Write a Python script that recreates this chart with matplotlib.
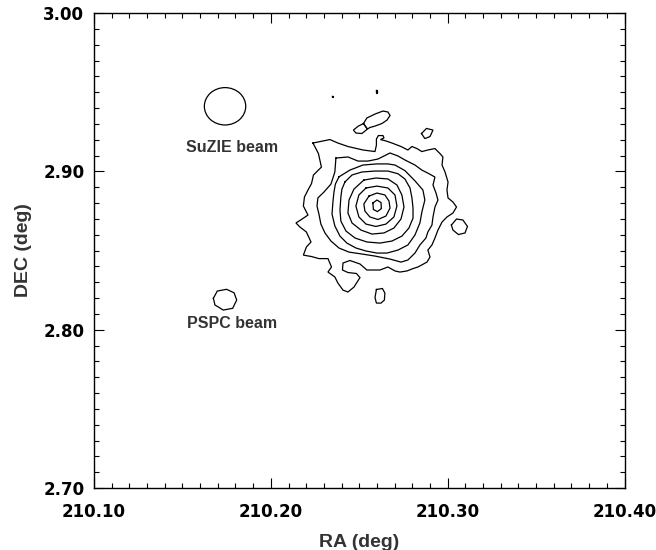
import numpy as np
import matplotlib
matplotlib.use("Agg")
import matplotlib.pyplot as plt
from matplotlib.patches import Ellipse
from matplotlib.ticker import MultipleLocator, FormatStrFormatter

# X-ray surface-brightness contours (RA, DEC in deg), innermost first
C1_RA = [210.2577, 210.2600, 210.2623, 210.2625, 210.2603, 210.2580]
C1_DEC = [2.8800, 2.8819, 2.8803, 2.8765, 2.8746, 2.8759]

C2_RA = [210.2555, 210.2600, 210.2645, 210.2668, 210.2674, 210.2651, 210.2606, 210.2560, 210.2532, 210.2526]
C2_DEC = [2.8844, 2.8863, 2.8851, 2.8813, 2.8768, 2.8718, 2.8696, 2.8712, 2.8749, 2.8794]

C3_RA = [210.2538, 210.2600, 210.2662, 210.2702, 210.2713, 210.2696, 210.2651, 210.2594,
         210.2538, 210.2498, 210.2481, 210.2498]
C3_DEC = [2.8895, 2.8907, 2.8895, 2.8851, 2.8781, 2.8712, 2.8667, 2.8652,
          2.8667, 2.8712, 2.8781, 2.8851]

C4_RA = [210.2526, 210.2594, 210.2662, 210.2713, 210.2741, 210.2753, 210.2736, 210.2696,
         210.2640, 210.2572, 210.2510, 210.2459, 210.2436, 210.2442, 210.2470]
C4_DEC = [2.8945, 2.8958, 2.8952, 2.8914, 2.8851, 2.8775, 2.8699, 2.8642,
          2.8611, 2.8604, 2.8629, 2.8674, 2.8737, 2.8819, 2.8888]

C5_RA = [210.2419, 210.2459, 210.2515, 210.2589, 210.2662, 210.2719, 210.2758, 210.2787,
         210.2798, 210.2804, 210.2804, 210.2781, 210.2741, 210.2685, 210.2617, 210.2543,
         210.2476, 210.2425, 210.2396, 210.2391, 210.2396, 210.2402]
C5_DEC = [2.8933, 2.8977, 2.8996, 2.9002, 2.9002, 2.8985, 2.8952, 2.8895,
          2.8832, 2.8768, 2.8705, 2.8642, 2.8591, 2.8560, 2.8547, 2.8554,
          2.8579, 2.8623, 2.8686, 2.8756, 2.8838, 2.8888]

C6_RA = [210.2385, 210.2447, 210.2521, 210.2600, 210.2662, 210.2702, 210.2758, 210.2815,
         210.2860, 210.2871, 210.2854, 210.2843, 210.2815, 210.2775, 210.2719, 210.2657,
         210.2600, 210.2538, 210.2481, 210.2430, 210.2391, 210.2362, 210.2346, 210.2351,
         210.2357, 210.2365]
C6_DEC = [2.8965, 2.9008, 2.9040, 2.9047, 2.9047, 2.9040, 2.9005, 2.8940,
          2.8882, 2.8819, 2.8743, 2.8674, 2.8598, 2.8535, 2.8503, 2.8484,
          2.8484, 2.8497, 2.8516, 2.8547, 2.8591, 2.8655, 2.8730, 2.8806,
          2.8869, 2.8920]

C7_RA = [210.2368, 210.2436, 210.2493, 210.2549, 210.2606, 210.2674, 210.2719, 210.2758,
         210.2815, 210.2854, 210.2888, 210.2928, 210.2917, 210.2934, 210.2945, 210.2928,
         210.2917, 210.2911, 210.2888, 210.2877, 210.2843, 210.2815, 210.2775, 210.2736,
         210.2674, 210.2589, 210.2515, 210.2442, 210.2385, 210.2340, 210.2306, 210.2283,
         210.2272, 210.2261, 210.2266, 210.2300, 210.2340, 210.2362]
C7_DEC = [2.9084, 2.9091, 2.9065, 2.9065, 2.9078, 2.9116, 2.9097, 2.9072,
          2.9040, 2.9008, 2.8989, 2.8964, 2.8914, 2.8863, 2.8819, 2.8775,
          2.8712, 2.8661, 2.8617, 2.8579, 2.8535, 2.8484, 2.8440, 2.8427,
          2.8446, 2.8465, 2.8478, 2.8490, 2.8516, 2.8560, 2.8611, 2.8667,
          2.8730, 2.8781, 2.8832, 2.8869, 2.8920, 2.8996]

C8_RA = [210.2238, 210.2278, 210.2334, 210.2379, 210.2436, 210.2521, 210.2589, 210.2597,
         210.2597, 210.2608, 210.2634, 210.2640, 210.2620, 210.2651, 210.2685, 210.2736,
         210.2775, 210.2798, 210.2826, 210.2854, 210.2888, 210.2928, 210.2956, 210.2973,
         210.2968, 210.2985, 210.3002, 210.2996, 210.3002, 210.3030, 210.3050, 210.3030,
         210.2996, 210.2968, 210.2945, 210.2928, 210.2911, 210.2888, 210.2900, 210.2883,
         210.2832, 210.2804, 210.2770, 210.2730, 210.2702, 210.2662, 210.2617, 210.2589,
         210.2543, 210.2504, 210.2447, 210.2408, 210.2405, 210.2436, 210.2484, 210.2504,
         210.2470, 210.2436, 210.2408, 210.2379, 210.2362, 210.2323, 210.2343, 210.2323,
         210.2272, 210.2230, 210.2184, 210.2201, 210.2227, 210.2201, 210.2165, 210.2142,
         210.2173, 210.2210, 210.2184, 210.2190, 210.2210, 210.2230, 210.2241, 210.2286,
         210.2269]
C8_DEC = [2.9179, 2.9188, 2.9201, 2.9179, 2.9157, 2.9135, 2.9125, 2.9166,
          2.9204, 2.9226, 2.9226, 2.9211, 2.9201, 2.9192, 2.9179, 2.9157,
          2.9135, 2.9157, 2.9144, 2.9125, 2.9135, 2.9144, 2.9113, 2.9091,
          2.9040, 2.8996, 2.8933, 2.8882, 2.8832, 2.8806, 2.8775, 2.8737,
          2.8712, 2.8680, 2.8629, 2.8579, 2.8535, 2.8503, 2.8459, 2.8427,
          2.8396, 2.8386, 2.8371, 2.8364, 2.8371, 2.8396, 2.8377, 2.8377,
          2.8377, 2.8415, 2.8437, 2.8421, 2.8377, 2.8361, 2.8355, 2.8329,
          2.8269, 2.8238, 2.8250, 2.8295, 2.8333, 2.8364, 2.8396, 2.8449,
          2.8449, 2.8462, 2.8471, 2.8522, 2.8554, 2.8617, 2.8648, 2.8674,
          2.8696, 2.8724, 2.8781, 2.8838, 2.8882, 2.8923, 2.8977, 2.9027,
          2.9113]

# isolated patches at the lowest level
BLOB_A_RA = [210.2524, 210.2543, 210.2589, 210.2634, 210.2662, 210.2674, 210.2657, 210.2628,
             210.2589, 210.2560, 210.2546]
BLOB_A_DEC = [2.9302, 2.9337, 2.9362, 2.9381, 2.9375, 2.9353, 2.9324, 2.9302,
              2.9286, 2.9277, 2.9267]
BLOB_B_RA = [210.2524, 210.2495, 210.2467, 210.2481, 210.2515, 210.2546]
BLOB_B_DEC = [2.9302, 2.9286, 2.9261, 2.9242, 2.9239, 2.9267]
BLOB_C_RA = [210.2852, 210.2880, 210.2917, 210.2900, 210.2871]
BLOB_C_DEC = [2.9239, 2.9271, 2.9261, 2.9220, 2.9207]
BLOB_D_RA = [210.3021, 210.3050, 210.3086, 210.3112, 210.3098, 210.3061, 210.3030]
BLOB_D_DEC = [2.8661, 2.8699, 2.8693, 2.8652, 2.8611, 2.8601, 2.8629]
BLOB_E_RA = [210.2597, 210.2631, 210.2645, 210.2642, 210.2623, 210.2597, 210.2589]
BLOB_E_DEC = [2.8254, 2.8260, 2.8231, 2.8187, 2.8168, 2.8168, 2.8203]
SPECK_A_RA = [210.2346, 210.2353, 210.2353, 210.2346]
SPECK_A_DEC = [2.9473, 2.9473, 2.9469, 2.9469]
SPECK_B_RA = [210.2595, 210.2600, 210.2600, 210.2595]
SPECK_B_DEC = [2.9513, 2.9513, 2.9496, 2.9496]

# beams
SUZIE_RA, SUZIE_DEC = 210.1741, 2.9411
SUZIE_W, SUZIE_H = 0.0234, 0.0236
PSPC_RA = [210.1675, 210.1697, 210.1750, 210.1792, 210.1807, 210.1784, 210.1731, 210.1684]
PSPC_DEC = [2.8198, 2.8244, 2.8255, 2.8233, 2.8187, 2.8135, 2.8124, 2.8156]
LABELS = ["SuZIE beam", "PSPC beam"]
LABEL_RA = [210.1783, 210.1779]
LABEL_DEC = [2.9151, 2.8040]

CONTOURS = [(C1_RA, C1_DEC), (C2_RA, C2_DEC), (C3_RA, C3_DEC), (C4_RA, C4_DEC),
            (C5_RA, C5_DEC), (C6_RA, C6_DEC), (C7_RA, C7_DEC), (C8_RA, C8_DEC),
            (BLOB_A_RA, BLOB_A_DEC), (BLOB_B_RA, BLOB_B_DEC), (BLOB_C_RA, BLOB_C_DEC),
            (BLOB_D_RA, BLOB_D_DEC), (BLOB_E_RA, BLOB_E_DEC),
            (SPECK_A_RA, SPECK_A_DEC), (SPECK_B_RA, SPECK_B_DEC),
            (PSPC_RA, PSPC_DEC)]


def closed(xs, ys):
    return np.append(xs, xs[0]), np.append(ys, ys[0])


fig = plt.figure(figsize=(6.56, 5.5), dpi=100)
ax = fig.add_axes([0.1433, 0.1127, 0.8087, 0.8636])

for ra, dec in CONTOURS:
    x, y = closed(ra, dec)
    ax.plot(x, y, color="black", lw=0.9, solid_joinstyle="miter")

ax.add_patch(Ellipse((SUZIE_RA, SUZIE_DEC), SUZIE_W, SUZIE_H, fill=False,
                     edgecolor="black", lw=0.9))
for lab, ra, dec in zip(LABELS, LABEL_RA, LABEL_DEC):
    ax.text(ra, dec, lab, ha="center", va="center", fontsize=11.5,
            fontweight="bold", family="Liberation Sans", color="#333333")

ax.set_xlim(210.10, 210.40)
ax.set_ylim(2.70, 3.00)
ax.xaxis.set_major_locator(MultipleLocator(0.1))
ax.xaxis.set_minor_locator(MultipleLocator(0.01))
ax.yaxis.set_major_locator(MultipleLocator(0.1))
ax.yaxis.set_minor_locator(MultipleLocator(0.01))
ax.xaxis.set_major_formatter(FormatStrFormatter("%.2f"))
ax.yaxis.set_major_formatter(FormatStrFormatter("%.2f"))
ax.tick_params(which="both", direction="in", top=True, right=True, width=0.8)
ax.tick_params(which="major", length=7.5)
ax.tick_params(which="minor", length=3.5)
ax.tick_params(axis="x", which="major", pad=11)
ax.tick_params(axis="y", which="major", pad=7)
for lab in ax.get_xticklabels() + ax.get_yticklabels():
    lab.set_fontweight("bold")
    lab.set_fontsize(12)
    lab.set_family("DejaVu Sans")
for sp in ax.spines.values():
    sp.set_linewidth(1.0)

ax.set_xlabel("RA (deg)", fontsize=14, fontweight="bold", family="Liberation Sans",
              color="#333333", labelpad=9)
ax.set_ylabel("DEC (deg)", fontsize=14, fontweight="bold", family="Liberation Sans",
              color="#333333", labelpad=8)

fig.savefig("out.png", dpi=100)
